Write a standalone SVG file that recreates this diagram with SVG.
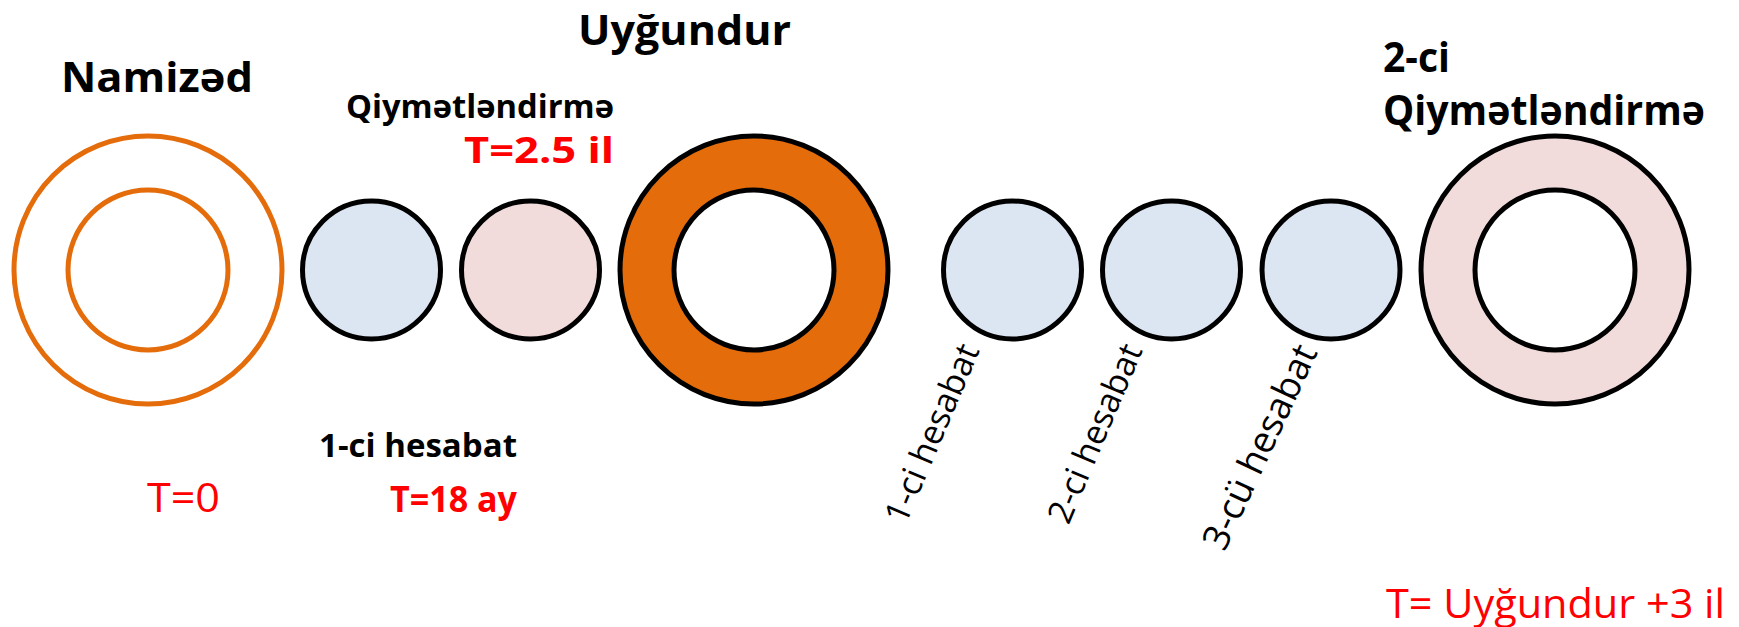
<svg xmlns="http://www.w3.org/2000/svg" width="1739" height="627" viewBox="0 0 1739 627">
<style>
.ring{stroke:#000;stroke-width:5}
.orl{fill:none;stroke:#E46C0A;stroke-width:5}
.blue{fill:#DCE6F2;stroke:#000;stroke-width:5}
.pink{fill:#F2DCDB;stroke:#000;stroke-width:5}
.hole{fill:#fff;stroke:#000;stroke-width:5}
text{font-family:"Open Sans","Noto Sans","DejaVu Sans",sans-serif}
.t1{font-weight:700;font-size:42px;fill:#000}
.t2{font-weight:700;font-size:33px;fill:#000}
.r2{font-weight:700;font-size:35px;fill:#FF0000}
.r1{font-weight:400;font-size:40px;fill:#FF0000}
.lab{font-weight:400;font-size:34px;fill:#000}
</style>
<rect width="1739" height="627" fill="#fff"/>
<g id="connectors"></g>
<g id="namized">
<circle class="orl" cx="148" cy="270" r="134"/>
<circle class="orl" cx="148" cy="270" r="80"/>
<text class="t1" x="61" y="92" textLength="192" lengthAdjust="spacingAndGlyphs">Namizəd</text>
<text class="r1" x="147" y="512" textLength="73" lengthAdjust="spacingAndGlyphs">T=0</text>
</g>
<g id="hesabat1">
<circle class="blue" cx="371.5" cy="270" r="69"/>
<text class="t2" x="319" y="457" textLength="198" lengthAdjust="spacingAndGlyphs">1-ci hesabat</text>
<text class="r2" x="390" y="512" textLength="127" lengthAdjust="spacingAndGlyphs">T=18 ay</text>
</g>
<g id="qiymetlendirme1">
<circle class="pink" cx="530.5" cy="270" r="69"/>
<text class="t2" x="346" y="118" textLength="268" lengthAdjust="spacingAndGlyphs">Qiymətləndirmə</text>
<text class="r2" x="464" y="163" textLength="150" lengthAdjust="spacingAndGlyphs">T=2.5 il</text>
</g>
<g id="uygundur">
<circle class="ring" cx="754" cy="270" r="134" fill="#E46C0A"/>
<circle class="hole" cx="754" cy="270" r="80"/>
<text class="t1" x="578" y="45" textLength="213" lengthAdjust="spacingAndGlyphs">Uyğundur</text>
</g>
<g id="hesabat-a">
<circle class="blue" cx="1012.5" cy="270" r="69"/>
<text class="lab" transform="translate(980,350) rotate(-67)" text-anchor="end">1-ci hesabat</text>
</g>
<g id="hesabat-b">
<circle class="blue" cx="1171.5" cy="270" r="69"/>
<text class="lab" transform="translate(1143,350) rotate(-67)" text-anchor="end">2-ci hesabat</text>
</g>
<g id="hesabat-c">
<circle class="blue" cx="1331" cy="270" r="69"/>
<text class="lab" transform="translate(1318,352) rotate(-65)" text-anchor="end" style="font-size:37px">3-cü hesabat</text>
</g>
<g id="qiymetlendirme2">
<circle class="pink" cx="1555" cy="270" r="134"/>
<circle class="hole" cx="1555" cy="270" r="80"/>
<text class="t1" x="1383" y="72" textLength="67" lengthAdjust="spacingAndGlyphs">2-ci</text>
<text class="t1" x="1383" y="125" textLength="322" lengthAdjust="spacingAndGlyphs">Qiymətləndirmə</text>
<text class="r1" x="1386" y="618" textLength="339" lengthAdjust="spacingAndGlyphs">T= Uyğundur +3 il</text>
</g>
</svg>
